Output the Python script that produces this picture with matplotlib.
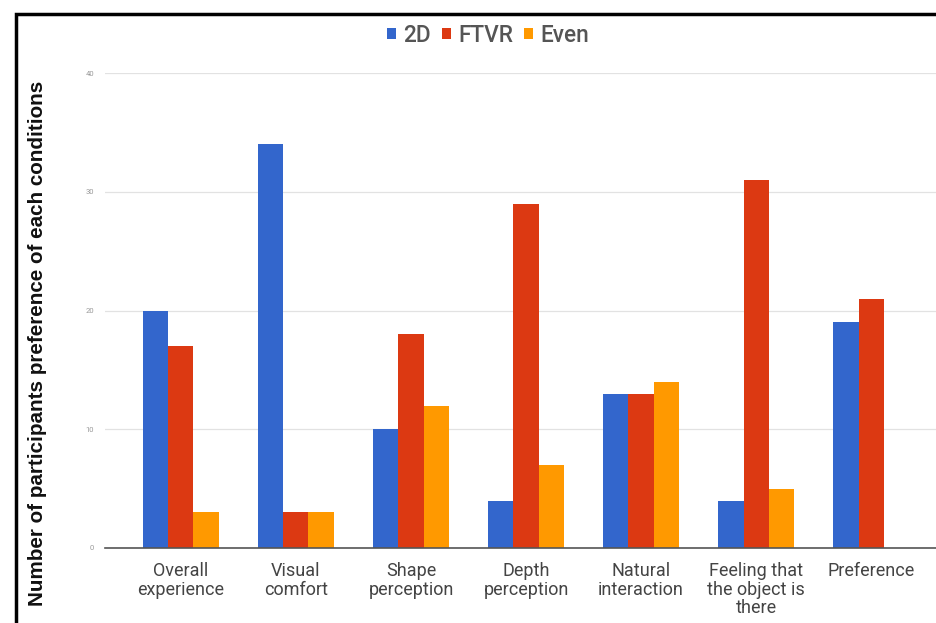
import numpy as np
import matplotlib.pyplot as plt
from matplotlib.patches import Rectangle

categories = ["Overall\nexperience", "Visual\ncomfort", "Shape\nperception",
              "Depth\nperception", "Natural\ninteraction",
              "Feeling that\nthe object is\nthere", "Preference"]
vals_2d = [20, 34, 10, 4, 13, 4, 19]
vals_ftvr = [17, 3, 18, 29, 13, 31, 21]
vals_even = [3, 3, 12, 7, 14, 5, 0]
series = ["2D", "FTVR", "Even"]
colors = ["#3366cc", "#dc3912", "#ff9900"]
yticks = [0, 10, 20, 30, 40]

fig = plt.figure(figsize=(9.36, 6.23), dpi=100)
W, H = 936, 623
ax = fig.add_axes([105 / W, 1 - 548 / H, 842 / W, 475 / H])

x = np.arange(len(categories))
bw = 0.218
for i, (vals, name, c) in enumerate(zip([vals_2d, vals_ftvr, vals_even], series, colors)):
    ax.bar(x + (i - 1) * bw, vals, width=bw, color=c, label=name, zorder=3)

ax.set_xlim(-0.66, 6.66)
ax.set_ylim(0, 40)
ax.set_yticks(yticks)
ax.set_yticklabels([str(t) for t in yticks], fontsize=5.5, color="#999999", family="Roboto")
ax.set_xticks(x)
ax.set_xticklabels(categories, fontsize=13, color="#444444", family="Roboto", linespacing=1.05)
ax.tick_params(axis="both", length=0)
ax.tick_params(axis="x", pad=10)
ax.tick_params(axis="y", pad=8)
ax.grid(axis="y", color="#e2e2e2", linewidth=0.9, zorder=0)
for s in ["top", "right", "left"]:
    ax.spines[s].set_visible(False)
ax.spines["bottom"].set_color("#555555")
ax.spines["bottom"].set_linewidth(1.2)
ax.spines["bottom"].set_zorder(4)

fig.text(38 / W, 1 - 343 / H, "Number of participants preference of each conditions",
         rotation=90, ha="center", va="center", fontsize=14.9, fontweight="bold",
         family="Liberation Sans", color="#111111")

leg = fig.legend(loc="center", bbox_to_anchor=(488 / W, 1 - 35 / H), ncol=3, frameon=False,
                 prop={"family": "Roboto", "size": 16.3, "weight": "medium"},
                 handlelength=0.4, handleheight=0.4,
                 handletextpad=0.3, columnspacing=0.5)
for t in leg.get_texts():
    t.set_color("#555555")

fig.patches.append(Rectangle((16 / W, -0.1), 1.2, 1 - 14 / H + 0.1, transform=fig.transFigure,
                             fill=False, edgecolor="black", linewidth=2.5))

fig.savefig("out.png", dpi=100)
